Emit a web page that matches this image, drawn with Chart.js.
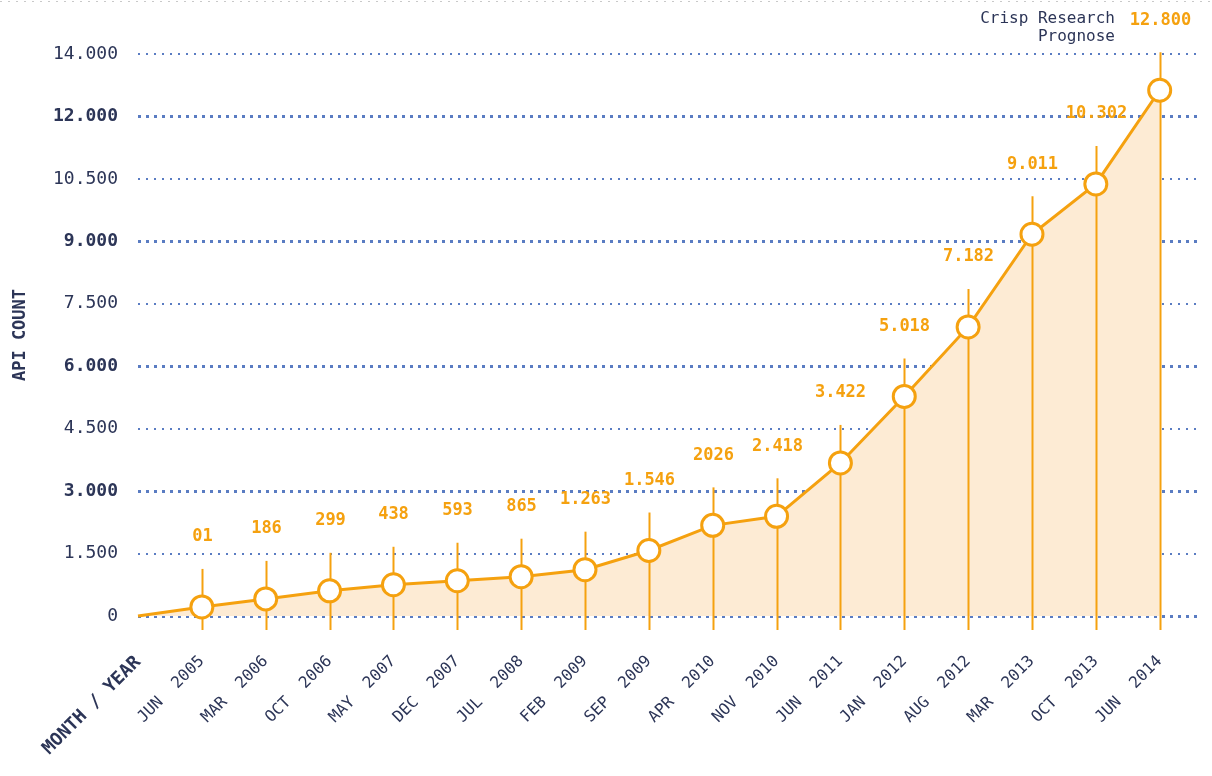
<!DOCTYPE html>
<html>
<head>
<meta charset="utf-8">
<script src="https://cdn.jsdelivr.net/npm/chart.js@4"></script>
<style>
  html, body { margin: 0; padding: 0; background: #fff; }
  #wrap { width: 1212px; height: 776px; }
</style>
</head>
<body>
<div id="wrap"><canvas id="apiChart"></canvas></div>
<script>
const months = [
  "MONTH / YEAR", "JUN  2005", "MAR  2006", "OCT  2006", "MAY  2007", "DEC  2007",
  "JUL  2008", "FEB  2009", "SEP  2009", "APR  2010", "NOV  2010", "JUN  2011",
  "JAN  2012", "AUG  2012", "MAR  2013", "OCT  2013", "JUN  2014",
];
const apiCount = [
  0, 218, 411, 605, 750, 847, 944, 1113, 1573, 2177, 2395, 3677,
  5274, 6944, 9170, 10379, 12629,
];
const valueLabels = [
  "", "01", "186", "299", "438", "593", "865", "1.263", "1.546", "2026",
  "2.418", "3.422", "5.018", "7.182", "9.011", "10.302", "12.800",
];
const yTickLabels = [
  "0", "1.500", "3.000", "4.500", "6.000", "7.500", "9.000", "10.500", "12.000", "14.000",
];
const note = ["Crisp Research", "Prognose"];

const NAVY = "#2c3557";
const ORANGE = "#f5a10f";
const FILL = "#fdebd4";
const GRID = "#5a7cc2";
const MONO = "'DejaVu Sans Mono', monospace";

const points = apiCount.map((v, i) => ({ x: i, y: v }));

// vertical markers + value labels, drawn over the area but under the line
const whiskers = {
  id: "whiskers",
  afterDatasetDraw(chart, args) {
    if (args.index !== 1) return;
    const { ctx, scales } = chart;
    const x = scales.x, y = scales.y;
    const base = y.getPixelForValue(0) + 14;
    ctx.save();
    ctx.strokeStyle = ORANGE;
    ctx.lineWidth = 2;
    ctx.fillStyle = ORANGE;
    ctx.font = "bold 17px " + MONO;
    ctx.textAlign = "center";
    ctx.textBaseline = "middle";
    apiCount.forEach((v, i) => {
      if (i === 0) return;
      const px = Math.round(x.getPixelForValue(i)) + 0.5;
      const py = y.getPixelForValue(v);
      ctx.beginPath();
      ctx.moveTo(px, py - 38);
      ctx.lineTo(px, base);
      ctx.stroke();
      ctx.fillText(valueLabels[i], px, py - 70);
    });
    ctx.restore();
  },
};

const decor = {
  id: "decor",
  beforeDraw(chart) {
    const { ctx, width } = chart;
    ctx.save();
    ctx.fillStyle = "#fff";
    ctx.fillRect(0, 0, width, chart.height);
    ctx.strokeStyle = "#c9c9c9";
    ctx.lineWidth = 1;
    ctx.setLineDash([2, 6]);
    ctx.beginPath();
    ctx.moveTo(0, 1.5);
    ctx.lineTo(width, 1.5);
    ctx.stroke();
    ctx.restore();
  },
  afterDraw(chart) {
    const { ctx } = chart;
    ctx.save();
    ctx.fillStyle = NAVY;
    ctx.font = "16px " + MONO;
    ctx.textAlign = "right";
    ctx.textBaseline = "middle";
    ctx.fillText(note[0], 1115, 19);
    ctx.fillText(note[1], 1115, 37);
    ctx.restore();
  },
};

new Chart(document.getElementById("apiChart"), {
  type: "line",
  data: {
    datasets: [
      {
        label: "API count",
        data: points,
        order: 1,
        borderColor: ORANGE,
        borderWidth: 3,
        fill: false,
        pointRadius: (c) => (c.dataIndex === 0 ? 0 : 11),
        pointBackgroundColor: "#fff",
        pointBorderColor: ORANGE,
        pointBorderWidth: 3,
        tension: 0,
        clip: false,
      },
      {
        label: "area",
        data: points,
        order: 2,
        borderWidth: 0,
        pointRadius: 0,
        backgroundColor: FILL,
        fill: "origin",
        tension: 0,
      },
    ],
  },
  options: {
    responsive: true,
    maintainAspectRatio: false,
    animation: false,
    layout: { padding: { top: 54, right: 14, left: 10, bottom: 0 } },
    plugins: {
      legend: { display: false },
      tooltip: { enabled: false },
    },
    scales: {
      x: {
        type: "linear",
        min: 0,
        max: 16.6,
        afterBuildTicks: (s) => {
          s.ticks = months.map((_, i) => ({ value: i }));
        },
        afterFit: (s) => {
          s.height = 160;
        },
        grid: { display: false, drawTicks: false },
        border: { display: false },
        ticks: {
          autoSkip: false,
          minRotation: 45,
          maxRotation: 45,
          padding: 36,
          color: NAVY,
          font: (c) => ({
            family: MONO,
            size: c.index === 0 ? 18 : 16,
            weight: c.index === 0 ? "bold" : "normal",
          }),
          callback: (v) => months[v],
        },
      },
      y: {
        min: 0,
        max: 13500,
        afterFit: (s) => {
          s.width = 128;
        },
        afterBuildTicks: (s) => {
          s.ticks = yTickLabels.map((_, i) => ({ value: i * 1500 }));
        },
        title: {
          display: true,
          text: "API COUNT",
          color: NAVY,
          font: { family: MONO, size: 17, weight: "bold" },
          padding: { top: 0, bottom: 0 },
        },
        border: {
          display: false,
          dash: (c) => (c.tick && c.tick.value % 3000 === 0 ? [3, 5] : [2, 6]),
        },
        grid: {
          color: GRID,
          lineWidth: (c) => (c.tick && c.tick.value % 3000 === 0 ? 3 : 2),
          drawTicks: false,
        },
        ticks: {
          padding: 20,
          color: NAVY,
          font: (c) => ({
            family: MONO,
            size: 18,
            weight: c.tick && c.tick.value > 0 && c.tick.value % 3000 === 0 ? "bold" : "normal",
          }),
          callback: (v, i) => yTickLabels[i],
        },
      },
    },
  },
  plugins: [decor, whiskers],
});
</script>
</body>
</html>
